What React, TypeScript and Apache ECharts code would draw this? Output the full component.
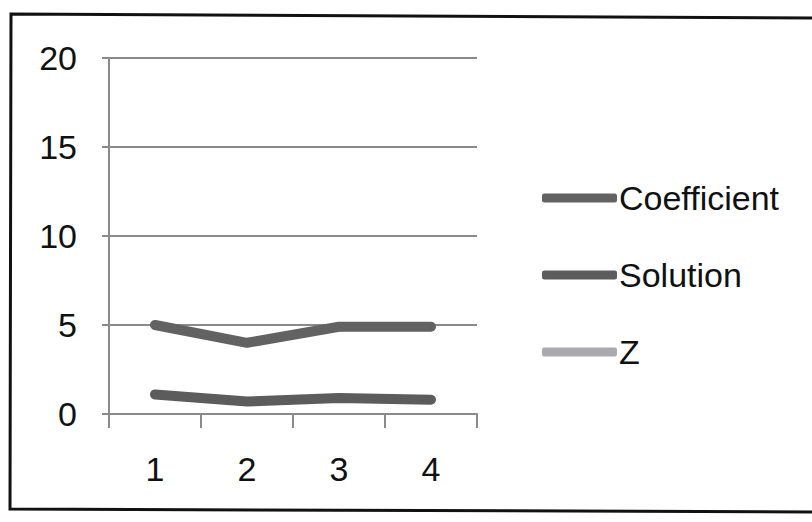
import React, { useEffect, useRef } from "react";
import * as echarts from "echarts";

const categories = ["1", "2", "3", "4"];
const coefficient = [5.0, 4.0, 4.9, 4.9];
const solution = [1.1, 0.7, 0.9, 0.8];
const zValues: (number | null)[] = [];
const yTicks = [0, 5, 10, 15, 20];

export default function App() {
  const ref = useRef<HTMLDivElement>(null);
  useEffect(() => {
    document.body.style.margin = "0";
    const chart = echarts.init(ref.current!, undefined, { renderer: "svg" });
    const font = "Liberation Sans";
    chart.setOption({
      animation: false,
      backgroundColor: "#ffffff",
      textStyle: { fontFamily: font },
      grid: { left: 109, right: 812 - 477, top: 58, bottom: 522 - 414 },
      legend: {
        orient: "vertical",
        left: 537,
        top: 173,
        icon: "roundRect",
        itemWidth: 75,
        itemHeight: 9,
        itemGap: 37,
        textStyle: { fontSize: 34, color: "#111", fontFamily: font, lineHeight: 40, padding: [0, 0, 0, -3] },
        data: ["Coefficient", "Solution", "Z"],
      },
      xAxis: {
        type: "category",
        data: categories,
        boundaryGap: true,
        axisLine: { lineStyle: { color: "#8a8a8a", width: 2 } },
        axisTick: { show: true, length: 14, lineStyle: { color: "#8a8a8a", width: 2 } },
        axisLabel: { fontSize: 34, color: "#111", margin: 38, fontFamily: font },
      },
      yAxis: {
        type: "value",
        min: yTicks[0],
        max: yTicks[yTicks.length - 1],
        interval: 5,
        axisLine: { show: true, lineStyle: { color: "#8a8a8a", width: 2 } },
        axisTick: { show: true, length: 7, lineStyle: { color: "#8a8a8a", width: 2 } },
        axisLabel: { fontSize: 34, color: "#111", margin: 32, fontFamily: font },
        splitLine: { show: true, lineStyle: { color: "#8a8a8a", width: 2 } },
      },
      series: [
        {
          name: "Coefficient",
          type: "line",
          data: coefficient,
          showSymbol: false,
          color: "#626262",
          lineStyle: { width: 10, cap: "round", join: "round", color: "#626262" },
        },
        {
          name: "Solution",
          type: "line",
          data: solution,
          showSymbol: false,
          color: "#5c5c5c",
          lineStyle: { width: 10, cap: "round", join: "round", color: "#5c5c5c" },
        },
        {
          name: "Z",
          type: "line",
          data: zValues,
          showSymbol: false,
          color: "#a9a9ae",
          lineStyle: { width: 10, cap: "round", color: "#a9a9ae" },
        },
      ],
      graphic: [
        {
          type: "polyline",
          shape: { points: [[812, 18], [11, 14], [10, 509], [812, 512]] },
          style: { stroke: "#111", lineWidth: 3, fill: null },
          silent: true,
        },
      ],
    });
    return () => chart.dispose();
  }, []);
  return <div ref={ref} style={{ width: 812, height: 522 }} />;
}
